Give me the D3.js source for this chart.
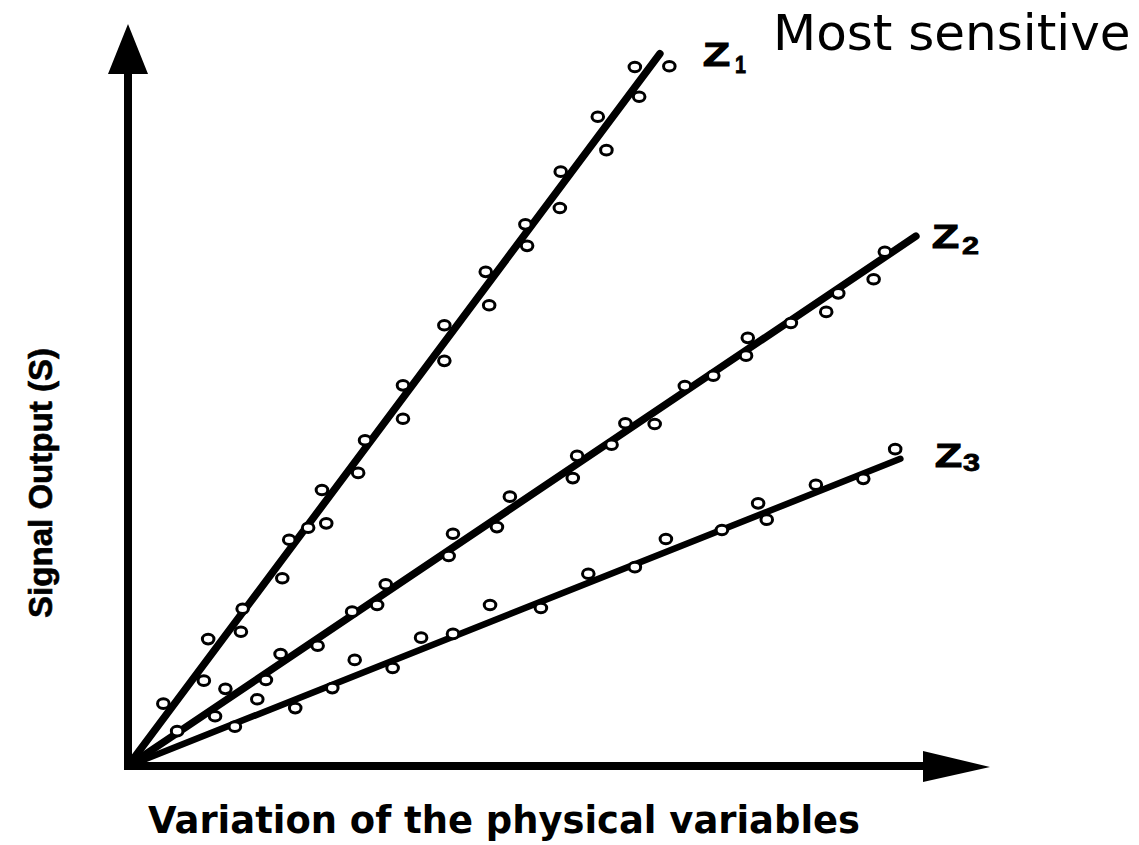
<!DOCTYPE html>
<html>
<head>
<meta charset="utf-8">
<script src="https://cdn.jsdelivr.net/npm/d3@7/dist/d3.min.js"></script>
<style>
  html, body { margin: 0; padding: 0; background: #fff; }
  svg { display: block; }
</style>
</head>
<body>
<svg id="chart" width="1139" height="845"></svg>
<script>
// ---- Data (arbitrary units, 0-100 on each axis) ----
const seriesNames = ["Z1", "Z2", "Z3"];
const seriesSub = ["1", "2", "3"];

// Fitted line end points (each line starts at the origin)
const lineEndX = [61.7, 91.4, 89.6];
const lineEndY = [96.0, 71.4, 41.4];

// Measured points
const z1X = [4.1, 8.8, 9.3, 13.1, 13.3, 17.9, 18.7, 20.9, 22.5, 23.0, 26.7, 27.5, 31.9, 31.9, 36.7, 36.7, 41.5, 41.9, 46.1, 46.3, 50.1, 50.2, 54.5, 55.5, 58.8, 59.3, 62.8];
const z1Y = [8.4, 11.5, 17.1, 18.1, 21.2, 25.3, 30.5, 32.1, 37.2, 32.7, 39.5, 43.9, 51.3, 46.8, 59.4, 54.6, 66.6, 62.1, 73.0, 70.1, 75.2, 80.1, 87.5, 83.0, 94.2, 90.2, 94.3];

const z2X = [5.7, 10.1, 11.3, 15.0, 16.0, 17.7, 22.0, 26.0, 28.9, 29.9, 37.2, 37.7, 42.8, 44.3, 51.6, 52.1, 56.1, 57.7, 61.1, 64.6, 67.9, 71.7, 71.9, 76.9, 81.0, 82.4, 86.5, 87.8];
const z2Y = [4.7, 6.7, 10.4, 9.0, 11.6, 15.1, 16.2, 20.8, 21.7, 24.5, 28.3, 31.3, 32.2, 36.3, 38.8, 41.8, 43.3, 46.2, 46.1, 51.2, 52.6, 55.3, 57.7, 59.7, 61.2, 63.7, 65.6, 69.3];

const z3X = [12.4, 19.4, 23.7, 26.3, 30.7, 34.0, 37.7, 42.0, 47.9, 53.4, 58.8, 62.4, 68.9, 73.1, 74.1, 79.8, 85.3, 89.0];
const z3Y = [5.3, 7.8, 10.5, 14.3, 13.2, 17.3, 17.8, 21.7, 21.3, 25.9, 26.8, 30.6, 31.8, 35.4, 33.2, 37.9, 38.7, 42.7];

const xLabel = "Variation of the physical variables";
const yLabel = "Signal Output (S)";
const noteText = "Most sensitive";

// ---- Build ----
const svg = d3.select("#chart");
const x = d3.scaleLinear().domain([0, 100]).range([128, 990]);
const y = d3.scaleLinear().domain([0, 100]).range([766, 24]);

const series = [
  { name: seriesNames[0], sub: seriesSub[0], xs: z1X, ys: z1Y, ex: lineEndX[0], ey: lineEndY[0] },
  { name: seriesNames[1], sub: seriesSub[1], xs: z2X, ys: z2Y, ex: lineEndX[1], ey: lineEndY[1] },
  { name: seriesNames[2], sub: seriesSub[2], xs: z3X, ys: z3Y, ex: lineEndX[2], ey: lineEndY[2] }
];

// Axes
const axisW = 8;
svg.append("line")
  .attr("x1", x(0)).attr("y1", y(0) + axisW / 2)
  .attr("x2", x(0)).attr("y2", y(100) + 45)
  .attr("stroke", "#000").attr("stroke-width", axisW);
svg.append("line")
  .attr("x1", x(0) - axisW / 2).attr("y1", y(0))
  .attr("x2", x(100) - 60).attr("y2", y(0))
  .attr("stroke", "#000").attr("stroke-width", axisW);

// Arrow heads
svg.append("path")
  .attr("d", `M${x(0)},${y(100)} L${x(0) + 20},${y(100) + 50} L${x(0) - 20},${y(100) + 50} Z`)
  .attr("fill", "#000");
svg.append("path")
  .attr("d", `M${x(100)},${y(0) + 1} L${x(100) - 67},${y(0) - 15} L${x(100) - 67},${y(0) + 16} Z`)
  .attr("fill", "#000");

// Fit lines
const lineW = [7.5, 7.5, 6.5];
series.forEach((s, i) => {
  svg.append("line")
    .attr("x1", x(0)).attr("y1", y(0))
    .attr("x2", x(s.ex)).attr("y2", y(s.ey))
    .attr("stroke", "#000")
    .attr("stroke-width", lineW[i])
    .attr("stroke-linecap", "round");
});

// Points
series.forEach(s => {
  svg.append("g").selectAll("ellipse")
    .data(s.xs.map((v, j) => [v, s.ys[j]]))
    .join("ellipse")
    .attr("cx", d => x(d[0]))
    .attr("cy", d => y(d[1]))
    .attr("rx", 5.8)
    .attr("ry", 4.8)
    .attr("fill", "#fff")
    .attr("stroke", "#000")
    .attr("stroke-width", 3);
});

// Series labels Z1, Z2, Z3
const labelPos = [
  { zx: 703, zy: 66, sx: 735, sy: 73 },
  { zx: 932, zy: 248, sx: 962, sy: 254 },
  { zx: 935, zy: 467, sx: 963, sy: 471 }
];
series.forEach((s, i) => {
  const p = labelPos[i];
  svg.append("text")
    .attr("x", p.zx).attr("y", p.zy)
    .attr("font-family", "'Liberation Sans', Arial, sans-serif")
    .attr("font-weight", "bold")
    .attr("font-size", 33)
    .attr("stroke", "#000").attr("stroke-width", 1.2)
    .attr("textLength", 27)
    .attr("lengthAdjust", "spacingAndGlyphs")
    .text(s.name.charAt(0));
  svg.append("text")
    .attr("x", p.sx).attr("y", p.sy)
    .attr("font-family", "'Liberation Sans', Arial, sans-serif")
    .attr("font-weight", "bold")
    .attr("font-size", 23)
    .attr("stroke", "#000").attr("stroke-width", 0.8)
    .attr("textLength", i === 0 ? 11 : 17)
    .attr("lengthAdjust", "spacingAndGlyphs")
    .text(s.sub);
});

// Note text
svg.append("text")
  .attr("x", 773).attr("y", 50)
  .attr("font-family", "'DejaVu Sans', Verdana, sans-serif")
  .attr("font-size", 50)
  .attr("fill", "#000")
  .text(noteText);

// X axis label
svg.append("text")
  .attr("x", 148).attr("y", 833)
  .attr("font-family", "'DejaVu Sans', Verdana, sans-serif")
  .attr("font-weight", "bold")
  .attr("font-size", 37)
  .attr("textLength", 712)
  .attr("lengthAdjust", "spacingAndGlyphs")
  .text(xLabel);

// Y axis label
svg.append("text")
  .attr("transform", "translate(52,483) rotate(-90)")
  .attr("text-anchor", "middle")
  .attr("font-family", "'Liberation Sans', Arial, sans-serif")
  .attr("font-weight", "bold")
  .attr("font-size", 34)
  .attr("stroke", "#000").attr("stroke-width", 0.6)
  .attr("textLength", 270)
  .attr("lengthAdjust", "spacingAndGlyphs")
  .text(yLabel);
</script>
</body>
</html>
